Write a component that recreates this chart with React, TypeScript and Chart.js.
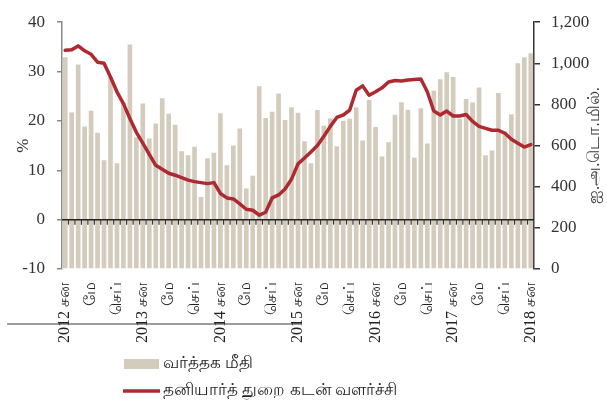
import React, { useEffect, useRef } from 'react';
import { Chart, registerables } from 'chart.js';

Chart.register(...registerables);

const months = [
  '2012-01', '2012-02', '2012-03', '2012-04', '2012-05', '2012-06', '2012-07', '2012-08', '2012-09', '2012-10', '2012-11', '2012-12',
  '2013-01', '2013-02', '2013-03', '2013-04', '2013-05', '2013-06', '2013-07', '2013-08', '2013-09', '2013-10', '2013-11', '2013-12',
  '2014-01', '2014-02', '2014-03', '2014-04', '2014-05', '2014-06', '2014-07', '2014-08', '2014-09', '2014-10', '2014-11', '2014-12',
  '2015-01', '2015-02', '2015-03', '2015-04', '2015-05', '2015-06', '2015-07', '2015-08', '2015-09', '2015-10', '2015-11', '2015-12',
  '2016-01', '2016-02', '2016-03', '2016-04', '2016-05', '2016-06', '2016-07', '2016-08', '2016-09', '2016-10', '2016-11', '2016-12',
  '2017-01', '2017-02', '2017-03', '2017-04', '2017-05', '2017-06', '2017-07', '2017-08', '2017-09', '2017-10', '2017-11', '2017-12',
  '2018-01',
];

// வர்த்தக மீதி (US$ mn, right axis)
const tradeBalance = [
  1029, 761, 994, 693, 769, 662, 529, 933, 514, 810, 1091, 640,
  805, 635, 707, 830, 755, 701, 573, 553, 595, 350, 538, 565,
  757, 504, 601, 683, 392, 453, 889, 734, 765, 853, 725, 787,
  760, 621, 514, 773, 697, 733, 597, 721, 731, 787, 625, 822,
  691, 547, 616, 750, 811, 774, 541, 782, 610, 867, 923, 957,
  934, 730, 827, 809, 883, 553, 576, 856, 669, 752, 1000, 1029,
  1049,
];

// தனியார்த் துறை கடன் வளர்ச்சி (%, left axis)
const creditGrowth = [
  34.3, 34.4, 35.2, 34.2, 33.5, 31.9, 31.7, 28.9, 25.9, 23.5, 20.5, 17.7,
  15.5, 13.2, 11.0, 10.2, 9.4, 9.0, 8.5, 8.0, 7.7, 7.5, 7.3, 7.5,
  5.3, 4.4, 4.2, 3.2, 2.1, 1.9, 0.9, 1.5, 4.4, 5.0, 6.2, 8.2,
  11.3, 12.5, 13.7, 15.0, 16.9, 18.9, 20.7, 21.2, 22.2, 26.2, 27.1, 25.2,
  25.9, 26.7, 27.9, 28.2, 28.1, 28.3, 28.4, 28.5, 25.9, 22.0, 21.2, 22.0,
  21.0, 21.0, 21.3, 19.9, 18.9, 18.5, 18.1, 18.1, 17.5, 16.3, 15.5, 14.7,
  15.2,
];

const tickLabels = [
  '2012 சன', 'மே', 'செப்', '2013 சன', 'மே', 'செப்', '2014 சன', 'மே', 'செப்',
  '2015 சன', 'மே', 'செப்', '2016 சன', 'மே', 'செப்', '2017 சன', 'மே', 'செப்', '2018 சன',
];

const seriesNames = ['வர்த்தக மீதி', 'தனியார்த் துறை கடன் வளர்ச்சி'];
const leftTitle = '%';
const rightTitle = 'ஐ.அ.டொ.மில்.';

const SERIF = '"Liberation Serif", "Times New Roman", serif';
const BAR_COLOR = '#d3cbbc';
const LINE_COLOR = '#ae2a31';

export default function App() {
  const ref = useRef<HTMLCanvasElement | null>(null);

  useEffect(() => {
    if (!ref.current) return;

    const decor = {
      id: 'decor',
      beforeDraw(chart: any) {
        const ctx = chart.ctx;
        ctx.save();
        ctx.strokeStyle = '#9c9c9c';
        ctx.lineWidth = 2;
        ctx.beginPath();
        ctx.moveTo(7, 324);
        ctx.lineTo(301, 324);
        ctx.stroke();
        ctx.restore();
      },
      afterDatasetDraw(chart: any, args: any) {
        if (args.meta.type !== 'bar') return;
        const { ctx, chartArea } = chart;
        const xs = chart.scales.x;
        const ys = chart.scales.y;
        const y0 = ys.getPixelForValue(0);
        ctx.save();
        ctx.strokeStyle = '#222';
        ctx.lineWidth = 1.5;
        ctx.beginPath();
        ctx.moveTo(chartArea.left, y0);
        ctx.lineTo(chartArea.right, y0);
        ctx.stroke();
        ctx.lineWidth = 1.2;
        ctx.strokeStyle = '#333';
        for (let i = 0; i < months.length - 1; i++) {
          const xb = (xs.getPixelForValue(i) + xs.getPixelForValue(i + 1)) / 2;
          ctx.beginPath();
          ctx.moveTo(xb, y0);
          ctx.lineTo(xb, y0 + 5);
          ctx.stroke();
        }
        ctx.restore();
      },
      afterDraw(chart: any) {
        const { ctx, chartArea } = chart;
        const midY = (chartArea.top + chartArea.bottom) / 2;
        ctx.save();
        ctx.fillStyle = '#333';
        ctx.textAlign = 'center';
        ctx.textBaseline = 'middle';
        ctx.font = `17px ${SERIF}`;
        ctx.save();
        ctx.translate(23.5, midY);
        ctx.rotate(-Math.PI / 2);
        ctx.fillText(leftTitle, 0, 0);
        ctx.restore();
        ctx.save();
        ctx.translate(595, midY);
        ctx.rotate(-Math.PI / 2);
        ctx.fillText(rightTitle, 0, 0);
        ctx.restore();

        // legend
        const ds = chart.data.datasets;
        ctx.textAlign = 'left';
        ctx.font = `17px ${SERIF}`;
        ctx.fillStyle = ds[0].backgroundColor;
        ctx.fillRect(124, 359, 35, 10);
        ctx.fillStyle = '#222';
        ctx.fillText(ds[0].label, 163, 364);
        ctx.strokeStyle = ds[1].borderColor;
        ctx.lineWidth = 3.5;
        ctx.beginPath();
        ctx.moveTo(123, 391);
        ctx.lineTo(160, 391);
        ctx.stroke();
        ctx.fillText(ds[1].label, 163, 391);
        ctx.restore();
      },
    };

    const chart = new Chart(ref.current, {
      type: 'bar',
      data: {
        labels: months,
        datasets: [
          {
            type: 'bar',
            label: seriesNames[0],
            data: tradeBalance,
            yAxisID: 'yR',
            backgroundColor: BAR_COLOR,
            borderWidth: 0,
            barPercentage: 0.72,
            categoryPercentage: 1,
            order: 2,
          },
          {
            type: 'line',
            label: seriesNames[1],
            data: creditGrowth,
            yAxisID: 'y',
            borderColor: LINE_COLOR,
            backgroundColor: LINE_COLOR,
            borderWidth: 3.5,
            pointRadius: 0,
            tension: 0,
            borderCapStyle: 'round',
            borderJoinStyle: 'round',
            order: 1,
          } as any,
        ],
      },
      options: {
        animation: false,
        responsive: false,
        maintainAspectRatio: false,
        layout: { padding: { top: 19, left: 0, right: 0, bottom: 0 } },
        plugins: {
          legend: { display: false },
          tooltip: { enabled: false },
          title: { display: false },
        },
        scales: {
          x: {
            type: 'category',
            offset: true,
            grid: { display: false, drawTicks: false },
            border: { display: false },
            ticks: {
              autoSkip: false,
              maxRotation: 90,
              minRotation: 90,
              padding: 13,
              color: '#222',
              font: { family: SERIF, size: 16 },
              callback: (_v: any, i: number) => (i % 4 === 0 ? tickLabels[i / 4] : ''),
            },
            afterFit: (s: any) => {
              s.height = 131;
            },
          },
          y: {
            type: 'linear',
            position: 'left',
            min: -10,
            max: 40,
            grid: { drawOnChartArea: false, tickLength: 5, color: '#8a8a8a', lineWidth: 1.5 },
            border: { display: true, color: '#8a8a8a', width: 1.5 },
            ticks: { stepSize: 10, padding: 12, color: '#333', font: { family: SERIF, size: 17 } },
            afterFit: (s: any) => {
              s.width = 62;
            },
          },
          yR: {
            type: 'linear',
            position: 'right',
            min: 0,
            max: 1200,
            grid: { drawOnChartArea: false, tickLength: 6, color: '#333', lineWidth: 1.5 },
            border: { display: true, color: '#333', width: 1.5 },
            ticks: {
              stepSize: 200,
              padding: 11,
              color: '#333',
              font: { family: SERIF, size: 17 },
              callback: (v: any) => Number(v).toLocaleString('en-US'),
            },
            afterFit: (s: any) => {
              s.width = 73;
            },
          },
        },
      },
      plugins: [decor],
    });

    return () => chart.destroy();
  }, []);

  return (
    <div style={{ position: 'absolute', left: 0, top: 0, width: 607, height: 400 }}>
      <canvas ref={ref} width={607} height={400} />
    </div>
  );
}
